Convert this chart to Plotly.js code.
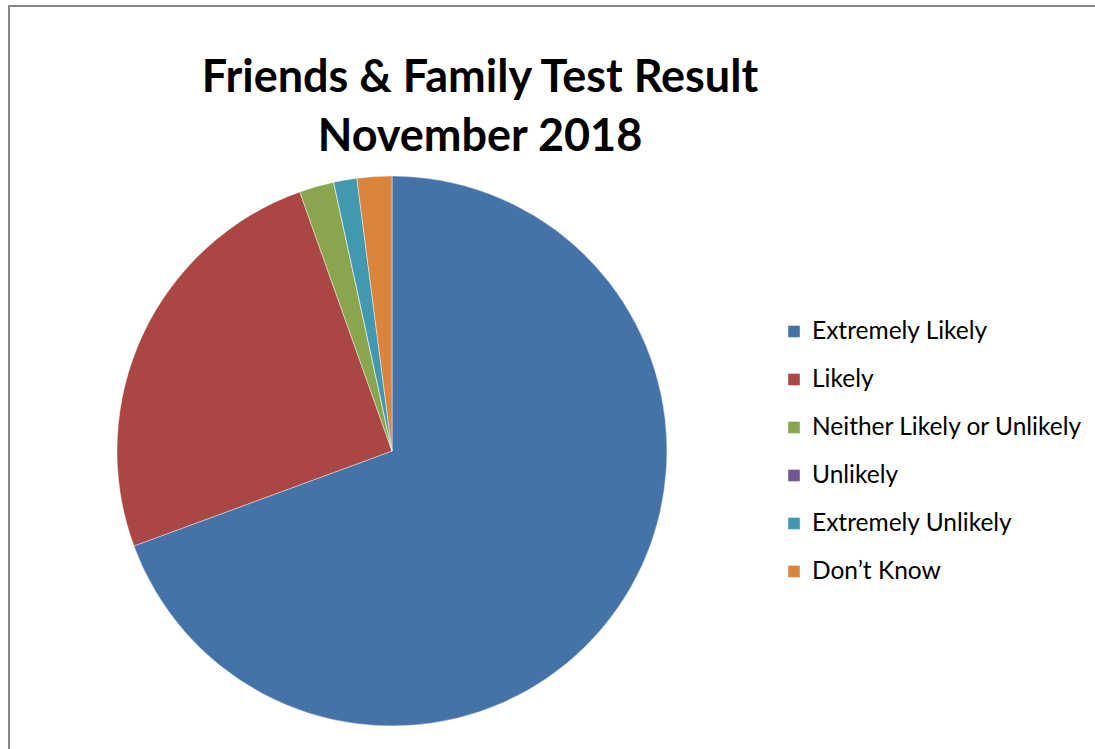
<!DOCTYPE html>
<html>
<head>
<meta charset="utf-8">
<script src="https://cdn.plot.ly/plotly-3.0.1.min.js"></script>
<style>
  html, body { margin: 0; padding: 0; background: #fff; }
  #chart { width: 1095px; height: 749px; }
  #chart .legendtext { font-size: 24.5px !important; transform: translate(-2px, -6px); }
</style>
</head>
<body>
<div id="chart"></div>
<script>
// Data (responses, November 2018)
const categories = ["Extremely Likely", "Likely", "Neither Likely or Unlikely", "Unlikely", "Extremely Unlikely", "Don\u2019t Know"];
const responses = [102, 37, 3, 0, 2, 3];
const sliceColors = ["#4572A7", "#AA4643", "#89A54E", "#71588F", "#4198AF", "#DB843D"];
const chartTitle = "Friends & Family Test Result<br>November 2018";

const W = 1095, H = 749;

const trace = {
  type: "pie",
  labels: categories,
  values: responses,
  marker: { colors: sliceColors, line: { color: "rgba(255,255,255,0.7)", width: 0.6 } },
  sort: false,
  direction: "clockwise",
  rotation: 0,
  textinfo: "none",
  hoverinfo: "label+value+percent",
  domain: { x: [117 / W, 667 / W], y: [1 - 726 / H, 1 - 176 / H] }
};

const layout = {
  width: W,
  height: H,
  margin: { l: 0, r: 0, t: 0, b: 0, pad: 0, autoexpand: false },
  paper_bgcolor: "#ffffff",
  plot_bgcolor: "#ffffff",
  font: { family: "Lato, 'Noto Sans', sans-serif", color: "#000000" },
  title: {
    text: chartTitle,
    font: { family: "Lato, 'Noto Sans', sans-serif", size: 45, weight: "bold", color: "#000000" },
    x: 480 / W,
    xanchor: "center",
    xref: "paper",
    y: 1 - 92 / H,
    yanchor: "top",
    yref: "paper",
    automargin: false
  },
  showlegend: true,
  legend: {
    x: 774 / W,
    xanchor: "left",
    y: 1 - 302.5 / H,
    yanchor: "top",
    bgcolor: "rgba(0,0,0,0)",
    borderwidth: 0,
    font: { family: "Lato, 'Noto Sans', sans-serif", size: 34.6, color: "#000000" },
    traceorder: "normal"
  },
  shapes: [
    { type: "line", xref: "paper", yref: "paper", x0: 9 / W, x1: 9 / W, y0: 1 - 5 / H, y1: -0.05, line: { color: "#878787", width: 2 } },
    { type: "line", xref: "paper", yref: "paper", x0: 8 / W, x1: 1.05, y0: 1 - 6 / H, y1: 1 - 6 / H, line: { color: "#878787", width: 2 } }
  ]
};

Plotly.newPlot("chart", [trace], layout, { displayModeBar: false });
</script>
</body>
</html>
